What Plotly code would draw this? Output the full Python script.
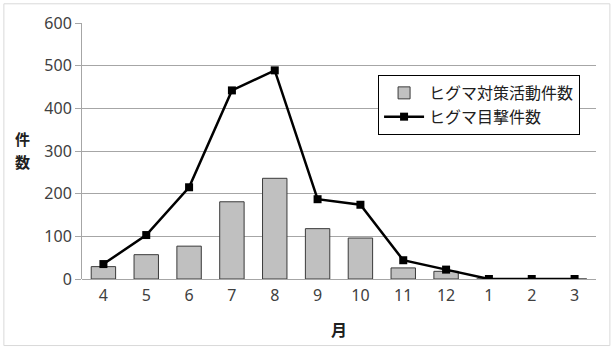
import plotly.graph_objects as go

# 月別データ（4月〜翌3月）
months = ["4", "5", "6", "7", "8", "9", "10", "11", "12", "1", "2", "3"]
activity_counts = [29, 57, 77, 181, 236, 118, 96, 26, 18, 0, 0, 0]
sighting_counts = [35, 103, 215, 442, 489, 187, 174, 44, 22, 0, 0, 0]
y_ticks = [0, 100, 200, 300, 400, 500, 600]

FONT = "Noto Sans CJK JP"
NUM_FONT = "Noto Sans"

fig = go.Figure()

fig.add_trace(go.Bar(
    x=months,
    y=activity_counts,
    name="ヒグマ対策活動件数",
    marker=dict(color="#c0c0c0", line=dict(color="#3a3a3a", width=1)),
))

fig.add_trace(go.Scatter(
    x=months,
    y=sighting_counts,
    name="ヒグマ目撃件数",
    mode="lines+markers",
    line=dict(color="#000000", width=2.5),
    marker=dict(symbol="square", size=8, color="#000000"),
))

# 縦書きの軸タイトル「件数」を1文字ずつ配置
title_font = dict(family=FONT, size=15, color="#202020")
y_title = [
    dict(text="<b>件</b>", xref="paper", yref="paper", x=-0.115, y=0.548,
         showarrow=False, xanchor="center", yanchor="middle",
         borderpad=0, font=title_font),
    dict(text="<b>数</b>", xref="paper", yref="paper", x=-0.115, y=0.46,
         showarrow=False, xanchor="center", yanchor="middle",
         borderpad=0, font=title_font),
]

fig.update_layout(
    width=614,
    height=349,
    margin=dict(l=82, r=18, t=23, b=70, autoexpand=False),
    paper_bgcolor="white",
    plot_bgcolor="white",
    bargap=0.43,
    font=dict(family=FONT, size=13, color="#404040"),
    showlegend=True,
    legend=dict(
        x=0.576, y=0.797, xanchor="left", yanchor="top",
        bgcolor="white", bordercolor="#000000", borderwidth=1,
        font=dict(family=FONT, size=16, color="#202020"),
        itemwidth=40,
        tracegroupgap=2,
    ),
    xaxis=dict(
        type="category",
        range=[-0.5, 11.5],
        automargin=False,
        showgrid=False,
        showline=False,
        ticks="",
        tickfont=dict(family=NUM_FONT, size=16, color="#404040"),
        ticklabelstandoff=5,
    ),
    yaxis=dict(
        range=[0, 600],
        tickvals=y_ticks,
        automargin=False,
        showgrid=True,
        gridcolor="#a6a6a6",
        gridwidth=1,
        zeroline=True,
        zerolinecolor="#a6a6a6",
        zerolinewidth=1,
        showline=True,
        linecolor="#a6a6a6",
        ticks="outside",
        ticklen=6,
        tickcolor="#a6a6a6",
        tickfont=dict(family=NUM_FONT, size=16, color="#404040"),
    ),
    annotations=y_title + [
        dict(text="<b>月</b>", xref="paper", yref="paper",
             x=0.5, y=-0.14, showarrow=False, yanchor="top",
             font=dict(family=FONT, size=16, color="#202020")),
    ],
    shapes=[
        dict(type="rect", xref="paper", yref="paper",
             x0=-0.152, x1=1.027, y0=-0.26, y1=1.075,
             line=dict(color="#d9d9d9", width=1)),
    ],
)

fig.write_html("out.html")
